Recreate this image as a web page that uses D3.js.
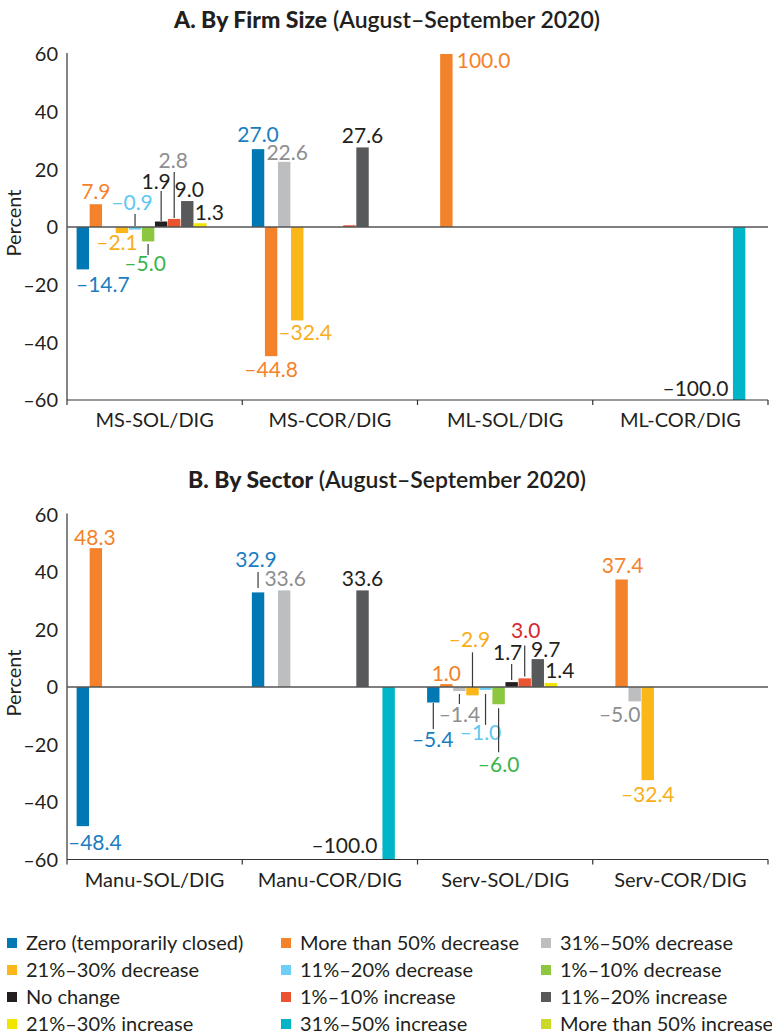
<!DOCTYPE html>
<html>
<head>
<meta charset="utf-8">
<script src="https://cdn.jsdelivr.net/npm/d3@7"></script>
<style>
  html, body { margin: 0; padding: 0; background: #fff; }
  svg { display: block; font-family: Lato, "Open Sans", "Noto Sans", sans-serif; font-weight: 400; }
</style>
</head>
<body>
<svg id="chart" width="772" height="1035"></svg>
<script>
// ---- Series (change in sales category) ----
const seriesNames = [
  "Zero (temporarily closed)", "More than 50% decrease", "31%–50% decrease",
  "21%–30% decrease", "11%–20% decrease", "1%–10% decrease",
  "No change", "1%–10% increase", "11%–20% increase",
  "21%–30% increase", "31%–50% increase", "More than 50% increase"
];
const barColors = [
  "#0078b4", "#f4822b", "#bcbec0", "#fbb61a", "#6dcff6", "#8dc63f",
  "#231f20", "#ea5430", "#58595b", "#f2e500", "#00b5c8", "#ccd92a"
];
const labelColors = [
  "#1b7dbf", "#f4822b", "#8d8e90", "#f8ae1b", "#5ec8f3", "#39b54a",
  "#231f20", "#d6282e", "#231f20", "#231f20", "#231f20", "#231f20"
];

// ---- Panel A: by firm size ----
const firmCategories = ["MS-SOL/DIG", "MS-COR/DIG", "ML-SOL/DIG", "ML-COR/DIG"];
const firmMsSol = [-14.7, 7.9, null, -2.1, -0.9, -5.0, 1.9, 2.8, 9.0, 1.3, null, null];
const firmMsCor = [27.0, -44.8, 22.6, -32.4, null, null, null, 0.6, 27.6, null, null, null];
const firmMlSol = [null, 100.0, null, null, null, null, null, null, null, null, null, null];
const firmMlCor = [null, null, null, null, null, null, null, null, null, null, -100.0, null];

// ---- Panel B: by sector ----
const sectorCategories = ["Manu-SOL/DIG", "Manu-COR/DIG", "Serv-SOL/DIG", "Serv-COR/DIG"];
const sectorManuSol = [-48.4, 48.3, null, null, null, null, null, null, null, null, null, null];
const sectorManuCor = [32.9, null, 33.6, null, null, null, null, null, 33.6, null, -100.0, null];
const sectorServSol = [-5.4, 1.0, -1.4, -2.9, -1.0, -6.0, 1.7, 3.0, 9.7, 1.4, null, null];
const sectorServCor = [null, 37.4, -5.0, -32.4, null, null, null, null, null, null, null, null];

const yTicks = [-60, -40, -20, 0, 20, 40, 60];

// Value-label placement: [category, series, dx, dy, leader [from,to] relative to bar end, anchor, colour]
const firmLabelLayout = [
  [0, 0, 20, 23], [0, 1, 0, -5], [0, 3, -5, 17],
  [0, 4, -3, -20, [-15.6, -3.6]], [0, 5, -3, 30, [2.6, 13.6]],
  [0, 6, -5, -33, [-30.5, -0.5]], [0, 7, -1, -51, [-47, -1], null, "#8d8e90"],
  [0, 8, 2, -4.4], [0, 9, 9, -3.3],
  [1, 0, 0, -7], [1, 1, 0, 20.5], [1, 2, 3, -2], [1, 3, 8, 19.6], [1, 8, 0, -4],
  [2, 1, 10.4, 14, null, "start"],
  [3, 10, -10.8, -4, null, "end"]
];
const sectorLabelLayout = [
  [0, 0, 12, 24], [0, 1, -1, -3],
  [1, 0, -2, -25, [-20.5, -4.5]], [1, 2, 1, -4], [1, 8, 0, -4],
  [1, 10, -11.3, -6.5, null, "end"],
  [2, 0, -0.6, 44.5, [0.5, 26.5]], [2, 1, 0, -3], [2, 2, 0, 31, [3, 13]],
  [2, 3, -3, -48, [-43, -8]], [2, 4, -5, 50, [4, 35]], [2, 5, 0, 68, [4, 48]],
  [2, 6, -4, -22, [-18, -2]], [2, 7, 1, -40, [-33, -2]], [2, 8, 8, -2], [2, 9, 9, -5],
  [3, 1, 1, -6], [3, 2, -15, 21], [3, 3, 0, 22]
];

const panels = [
  { titleBold: "A. By Firm Size", titleRest: " (August–September 2020)", titleY: 28,
    categories: firmCategories, rows: [firmMsSol, firmMsCor, firmMlSol, firmMlCor],
    top: 54, bottom: 400, labels: firmLabelLayout },
  { titleBold: "B. By Sector", titleRest: " (August–September 2020)", titleY: 488,
    categories: sectorCategories, rows: [sectorManuSol, sectorManuCor, sectorServSol, sectorServCor],
    top: 514.5, bottom: 859.5, labels: sectorLabelLayout }
];

const svg = d3.select("#chart");
const ink = "#231f20";
const fmt = v => (v < 0 ? "–" : "") + Math.abs(v).toFixed(1);
const left = 67, right = 768;

panels.forEach(p => {
  const g = svg.append("g");
  const x0 = d3.scaleBand().domain(p.categories).range([left, right]).padding(0);
  const x1 = d3.scaleBand().domain(d3.range(seriesNames.length))
    .range([9.6, x0.bandwidth() - 9.6]).paddingInner(0.05);
  const y = d3.scaleLinear().domain([-60, 60]).range([p.bottom, p.top]).clamp(true);

  // title
  const t = g.append("text").attr("x", 387).attr("y", p.titleY)
    .attr("text-anchor", "middle").attr("fill", ink).style("font-size", "23px");
  t.append("tspan").attr("font-weight", 900).text(p.titleBold);
  t.append("tspan").attr("font-weight", 600).text(p.titleRest);

  // y axis
  g.append("line").attr("x1", left).attr("x2", left).attr("y1", p.top - 1).attr("y2", p.bottom)
    .attr("stroke", "#333").attr("stroke-width", 1.2);
  g.selectAll(".ytick").data(yTicks).join("text")
    .attr("x", 58).attr("y", d => y(d)).attr("dy", "0.36em")
    .attr("text-anchor", "end").attr("fill", ink).style("font-size", "20px")
    .text(d => (d < 0 ? "–" : "") + Math.abs(d));
  g.append("text")
    .attr("transform", `translate(21,${y(0) - 4}) rotate(-90)`)
    .attr("text-anchor", "middle").attr("fill", ink).style("font-size", "20px")
    .text("Percent");

  // bars
  const bars = [];
  p.rows.forEach((vals, ci) => vals.forEach((v, si) => {
    if (v !== null) bars.push({ cat: p.categories[ci], ci, si, v });
  }));
  g.selectAll(".bar").data(bars).join("rect")
    .attr("x", d => x0(d.cat) + x1(d.si))
    .attr("width", x1.bandwidth())
    .attr("y", d => Math.min(y(d.v), y(0)))
    .attr("height", d => Math.abs(y(d.v) - y(0)))
    .attr("fill", d => barColors[d.si]);

  // zero line
  g.append("line").attr("x1", left).attr("x2", right).attr("y1", y(0)).attr("y2", y(0))
    .attr("stroke", "#555").attr("stroke-width", 1.5);

  // bottom axis with category ticks
  g.append("line").attr("x1", left).attr("x2", right).attr("y1", p.bottom).attr("y2", p.bottom)
    .attr("stroke", "#333").attr("stroke-width", 1.2);
  const edges = p.categories.map(c => x0(c)).concat([right]);
  g.selectAll(".xtick").data(edges).join("line")
    .attr("x1", d => d).attr("x2", d => d).attr("y1", p.bottom).attr("y2", p.bottom + 5)
    .attr("stroke", "#333").attr("stroke-width", 1.2);
  g.selectAll(".xlab").data(p.categories).join("text")
    .attr("x", d => x0(d) + x0.bandwidth() / 2).attr("y", p.bottom + 27)
    .attr("text-anchor", "middle").attr("fill", ink).style("font-size", "20px")
    .text(d => d);

  // value labels and leader lines
  p.labels.forEach(([ci, si, dx, dy, lead, anchor, color]) => {
    const v = p.rows[ci][si];
    const cx = x0(p.categories[ci]) + x1(si) + x1.bandwidth() / 2;
    const ey = y(v);
    if (lead) {
      g.append("line").attr("x1", cx).attr("x2", cx)
        .attr("y1", ey + lead[0]).attr("y2", ey + lead[1])
        .attr("stroke", "#3a3a3a").attr("stroke-width", 1.2);
    }
    g.append("text").attr("x", cx + dx).attr("y", ey + dy)
      .attr("text-anchor", anchor || "middle")
      .attr("fill", color || labelColors[si]).style("font-size", "21px")
      .text(fmt(v));
  });
});

// legend
const legendCols = [7, 281, 541];
const legendRowY = [943, 970, 997, 1024];
const lg = svg.append("g");
seriesNames.forEach((name, i) => {
  const cx = legendCols[i % 3], cy = legendRowY[Math.floor(i / 3)];
  lg.append("rect").attr("x", cx).attr("y", cy - 5).attr("width", 10).attr("height", 10)
    .attr("fill", barColors[i]);
  lg.append("text").attr("x", cx + 19).attr("y", cy).attr("dy", "0.35em")
    .attr("fill", ink).style("font-size", "20px").text(name);
});
</script>
</body>
</html>
